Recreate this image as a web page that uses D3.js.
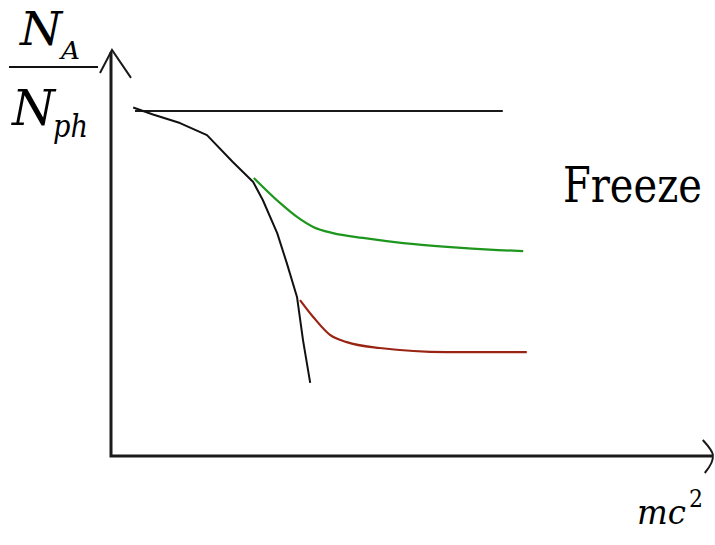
<!DOCTYPE html>
<html>
<head>
<meta charset="utf-8">
<script src="https://cdn.jsdelivr.net/npm/d3@7/dist/d3.min.js"></script>
<style>
  html, body { margin: 0; padding: 0; background: #fff; }
  svg { display: block; }
  .serif { font-family: "DejaVu Serif", "Liberation Serif", "Noto Serif", Tinos, "Times New Roman", serif; }
</style>
</head>
<body>
<script>
// Schematic: particle-to-photon ratio N_A/N_ph versus mass mc^2, with freeze-out branches.
// x in arbitrary mc^2 units, y as the ratio normalised to its high-temperature plateau.

// Flat reference line (no annihilation)
const plateauX = [0.40, 6.53];
const plateauY = [1.0, 1.0];

// Equilibrium curve
const equilibriumX = [0.37, 0.70, 1.15, 1.60, 2.03, 2.37, 2.53, 2.77, 2.93, 3.10, 3.20, 3.32];
const equilibriumY = [1.01, 0.99, 0.965, 0.93, 0.852, 0.794, 0.742, 0.646, 0.559, 0.461, 0.336, 0.212];

// Early freeze-out branch (green)
const earlyX = [2.38, 2.82, 3.10, 3.37, 3.70, 4.20, 4.87, 5.60, 6.45, 6.87];
const earlyY = [0.806, 0.733, 0.693, 0.664, 0.646, 0.632, 0.617, 0.606, 0.597, 0.594];

// Late freeze-out branch (red)
const lateX = [3.15, 3.37, 3.65, 3.93, 4.48, 5.60, 6.93];
const lateY = [0.452, 0.403, 0.351, 0.330, 0.313, 0.301, 0.301];

const W = 715, H = 545;
const svg = d3.select("body").append("svg").attr("width", W).attr("height", H);

const x = d3.scaleLinear().domain([0, 10]).range([111, 711]);
const y = d3.scaleLinear().domain([0, 1]).range([456, 111]);

const zip = (xs, ys) => xs.map((v, i) => [v, ys[i]]);
const smooth = d3.line().x(d => x(d[0])).y(d => y(d[1])).curve(d3.curveMonotoneX);
const straight = d3.line().x(d => x(d[0])).y(d => y(d[1]));

// Axes
const xEnd = 10.03, yEnd = 1.177;
svg.append("path")
  .attr("d", `M${x(0)},${y(yEnd) + 2} L${x(0)},${y(0)} L${x(xEnd)},${y(0)}`)
  .attr("fill", "none").attr("stroke", "#1a1a1a").attr("stroke-width", 3);

// Open arrowheads
svg.append("path")
  .attr("d", `M${x(0) - 11},${y(yEnd) + 23} L${x(0) + 1},${y(yEnd)} L${x(0) + 20},${y(yEnd) + 28}`)
  .attr("fill", "none").attr("stroke", "#1a1a1a").attr("stroke-width", 2);
svg.append("path")
  .attr("d", `M${x(xEnd) - 10},${y(0) - 16} Q${x(xEnd) + 1},${y(0) - 4} ${x(xEnd)},${y(0)} Q${x(xEnd) + 1},${y(0) + 6} ${x(xEnd) - 8},${y(0) + 17}`)
  .attr("fill", "none").attr("stroke", "#1a1a1a").attr("stroke-width", 2);

// Curves
svg.append("path").datum(zip(plateauX, plateauY))
  .attr("d", straight)
  .attr("fill", "none").attr("stroke", "#1a1a1a").attr("stroke-width", 2.2);

svg.append("path").datum(zip(equilibriumX, equilibriumY))
  .attr("d", straight).attr("fill", "none").attr("stroke", "#111").attr("stroke-width", 2)
  .attr("stroke-linejoin", "round");

svg.append("path").datum(zip(earlyX, earlyY))
  .attr("d", smooth).attr("fill", "none").attr("stroke", "#1e961e").attr("stroke-width", 2.2);

svg.append("path").datum(zip(lateX, lateY))
  .attr("d", smooth).attr("fill", "none").attr("stroke", "#9a2414").attr("stroke-width", 2.2);

// Labels: each is condensed horizontally to a target width so the wide serif face
// keeps the proportions of the original typesetting.
function label(txt, px, py, size, width, italic) {
  const g = svg.append("g");
  const t = g.append("text").attr("class", "serif")
    .attr("x", 0).attr("y", 0).attr("font-size", size).attr("fill", "#000")
    .attr("font-style", italic ? "italic" : "normal").text(txt);
  const natural = t.node().getComputedTextLength() || width;
  const sx = width / natural;
  g.attr("transform", `translate(${px},${py}) scale(${sx},1)`);
  return g;
}

label("N", 20, 45, 46, 42, true);
label("A", 61, 59, 25, 19, true);

svg.append("line").attr("x1", 9).attr("x2", 98).attr("y1", 67).attr("y2", 67)
  .attr("stroke", "#111").attr("stroke-width", 2);

label("N", 12, 125, 48, 43, true);
label("ph", 53, 137, 31, 35, true);

label("Freeze", 563, 202, 48, 139, false);

label("mc", 637, 524, 33, 49, true);
label("2", 689, 507, 24, 14, false);
</script>
</body>
</html>
